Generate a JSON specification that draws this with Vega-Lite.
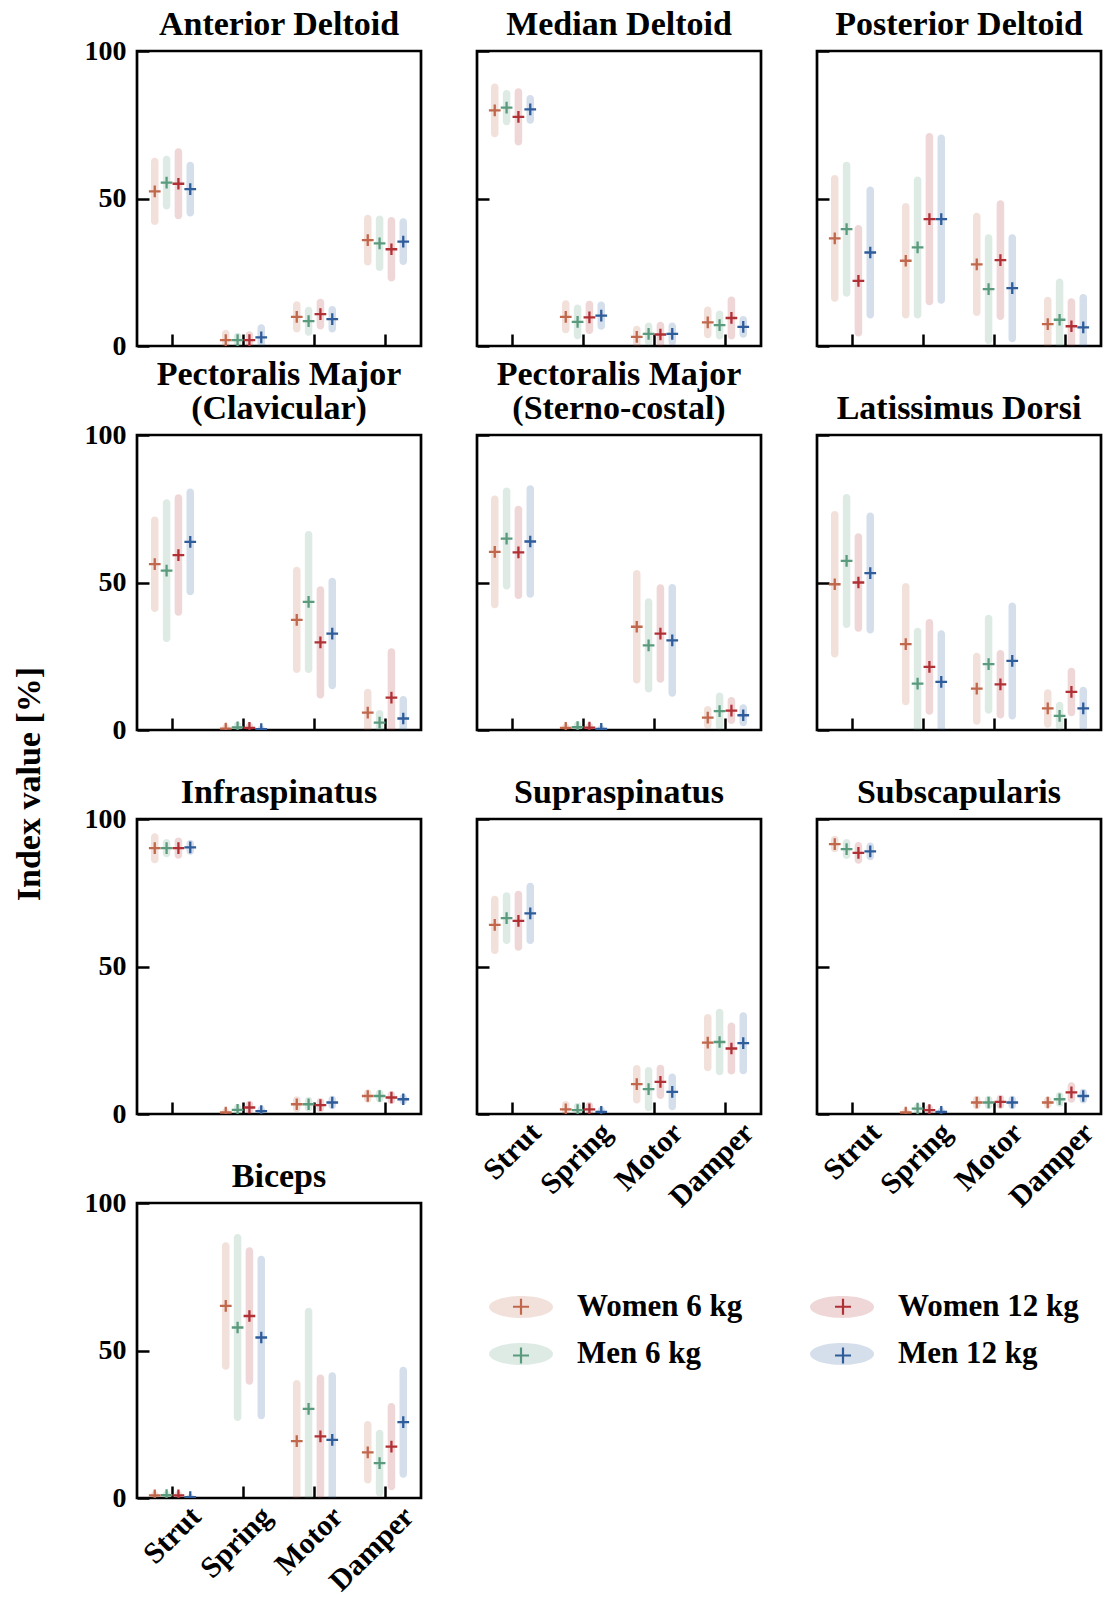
{
"$schema": "https://vega.github.io/schema/vega-lite/v6.json",
"background": "white",
"padding": {"left": 12, "top": 6, "right": 5, "bottom": 5},
"title": {"text": "Index value [%]", "orient": "left", "anchor": "middle", "offset": 36, "dx": 18, "fontSize": 34, "font": "Liberation Serif", "fontWeight": "bold", "color": "#000000"},
"columns": 3,
"spacing": {"row": 89, "column": 56},
"bounds": "flush",
"align": "all",
"datasets": {"d": [
{"m":"AD","d":"Strut","g":"Women 6 kg","v":52.4,"lo":41.0,"hi":63.8},
{"m":"AD","d":"Strut","g":"Men 6 kg","v":55.4,"lo":46.3,"hi":64.5},
{"m":"AD","d":"Strut","g":"Women 12 kg","v":55.0,"lo":43.0,"hi":67.0},
{"m":"AD","d":"Strut","g":"Men 12 kg","v":53.2,"lo":43.9,"hi":62.5},
{"m":"AD","d":"Spring","g":"Women 6 kg","v":2.0,"lo":-1.5,"hi":5.5},
{"m":"AD","d":"Spring","g":"Men 6 kg","v":2.0,"lo":-0.5,"hi":4.5},
{"m":"AD","d":"Spring","g":"Women 12 kg","v":2.0,"lo":-1.0,"hi":5.0},
{"m":"AD","d":"Spring","g":"Men 12 kg","v":2.9,"lo":-1.6,"hi":7.4},
{"m":"AD","d":"Motor","g":"Women 6 kg","v":9.9,"lo":4.6,"hi":15.2},
{"m":"AD","d":"Motor","g":"Men 6 kg","v":8.4,"lo":3.5,"hi":13.3},
{"m":"AD","d":"Motor","g":"Women 12 kg","v":10.8,"lo":5.6,"hi":16.0},
{"m":"AD","d":"Motor","g":"Men 12 kg","v":9.1,"lo":4.6,"hi":13.6},
{"m":"AD","d":"Damper","g":"Women 6 kg","v":35.9,"lo":27.3,"hi":44.5},
{"m":"AD","d":"Damper","g":"Men 6 kg","v":34.8,"lo":25.4,"hi":44.2},
{"m":"AD","d":"Damper","g":"Women 12 kg","v":32.8,"lo":21.9,"hi":43.7},
{"m":"AD","d":"Damper","g":"Men 12 kg","v":35.4,"lo":27.5,"hi":43.3},
{"m":"MD","d":"Strut","g":"Women 6 kg","v":79.9,"lo":70.8,"hi":89.0},
{"m":"MD","d":"Strut","g":"Men 6 kg","v":80.8,"lo":74.8,"hi":86.8},
{"m":"MD","d":"Strut","g":"Women 12 kg","v":77.7,"lo":68.0,"hi":87.4},
{"m":"MD","d":"Strut","g":"Men 12 kg","v":80.2,"lo":75.3,"hi":85.1},
{"m":"MD","d":"Spring","g":"Women 6 kg","v":9.9,"lo":4.3,"hi":15.5},
{"m":"MD","d":"Spring","g":"Men 6 kg","v":8.2,"lo":2.3,"hi":14.1},
{"m":"MD","d":"Spring","g":"Women 12 kg","v":9.7,"lo":4.1,"hi":15.3},
{"m":"MD","d":"Spring","g":"Men 12 kg","v":10.3,"lo":5.5,"hi":15.1},
{"m":"MD","d":"Motor","g":"Women 6 kg","v":3.1,"lo":-0.7,"hi":6.9},
{"m":"MD","d":"Motor","g":"Men 6 kg","v":4.1,"lo":0.2,"hi":8.0},
{"m":"MD","d":"Motor","g":"Women 12 kg","v":3.9,"lo":-0.4,"hi":8.2},
{"m":"MD","d":"Motor","g":"Men 12 kg","v":4.1,"lo":0.2,"hi":8.0},
{"m":"MD","d":"Damper","g":"Women 6 kg","v":8.0,"lo":2.6,"hi":13.4},
{"m":"MD","d":"Damper","g":"Men 6 kg","v":7.1,"lo":2.2,"hi":12.0},
{"m":"MD","d":"Damper","g":"Women 12 kg","v":9.5,"lo":2.2,"hi":16.8},
{"m":"MD","d":"Damper","g":"Men 12 kg","v":6.5,"lo":2.8,"hi":10.2},
{"m":"PD","d":"Strut","g":"Women 6 kg","v":36.5,"lo":15.0,"hi":58.0},
{"m":"PD","d":"Strut","g":"Men 6 kg","v":39.6,"lo":16.7,"hi":62.5},
{"m":"PD","d":"Strut","g":"Women 12 kg","v":22.1,"lo":3.2,"hi":41.0},
{"m":"PD","d":"Strut","g":"Men 12 kg","v":31.7,"lo":9.3,"hi":54.1},
{"m":"PD","d":"Spring","g":"Women 6 kg","v":28.9,"lo":9.3,"hi":48.5},
{"m":"PD","d":"Spring","g":"Men 6 kg","v":33.4,"lo":9.3,"hi":57.5},
{"m":"PD","d":"Spring","g":"Women 12 kg","v":43.0,"lo":13.8,"hi":72.2},
{"m":"PD","d":"Spring","g":"Men 12 kg","v":43.0,"lo":14.3,"hi":71.7},
{"m":"PD","d":"Motor","g":"Women 6 kg","v":27.7,"lo":10.2,"hi":45.2},
{"m":"PD","d":"Motor","g":"Men 6 kg","v":19.3,"lo":0.7,"hi":37.9},
{"m":"PD","d":"Motor","g":"Women 12 kg","v":29.1,"lo":8.8,"hi":49.4},
{"m":"PD","d":"Motor","g":"Men 12 kg","v":19.6,"lo":1.3,"hi":37.9},
{"m":"PD","d":"Damper","g":"Women 6 kg","v":7.4,"lo":-1.9,"hi":16.7},
{"m":"PD","d":"Damper","g":"Men 6 kg","v":8.9,"lo":-5.1,"hi":22.9},
{"m":"PD","d":"Damper","g":"Women 12 kg","v":6.7,"lo":-2.8,"hi":16.2},
{"m":"PD","d":"Damper","g":"Men 12 kg","v":6.3,"lo":-5.0,"hi":17.6},
{"m":"PC","d":"Strut","g":"Women 6 kg","v":56.2,"lo":40.0,"hi":72.4},
{"m":"PC","d":"Strut","g":"Men 6 kg","v":54.0,"lo":29.8,"hi":78.2},
{"m":"PC","d":"Strut","g":"Women 12 kg","v":59.3,"lo":38.7,"hi":79.9},
{"m":"PC","d":"Strut","g":"Men 12 kg","v":63.8,"lo":45.7,"hi":81.9},
{"m":"PC","d":"Spring","g":"Women 6 kg","v":0.5,"lo":-1.0,"hi":2.0},
{"m":"PC","d":"Spring","g":"Men 6 kg","v":0.9,"lo":-1.1,"hi":2.9},
{"m":"PC","d":"Spring","g":"Women 12 kg","v":0.7,"lo":-1.1,"hi":2.5},
{"m":"PC","d":"Spring","g":"Men 12 kg","v":0.3,"lo":-0.9,"hi":1.5},
{"m":"PC","d":"Motor","g":"Women 6 kg","v":37.3,"lo":19.3,"hi":55.3},
{"m":"PC","d":"Motor","g":"Men 6 kg","v":43.4,"lo":19.3,"hi":67.5},
{"m":"PC","d":"Motor","g":"Women 12 kg","v":29.7,"lo":10.7,"hi":48.7},
{"m":"PC","d":"Motor","g":"Men 12 kg","v":32.7,"lo":13.8,"hi":51.6},
{"m":"PC","d":"Damper","g":"Women 6 kg","v":5.9,"lo":-2.2,"hi":14.0},
{"m":"PC","d":"Damper","g":"Men 6 kg","v":2.5,"lo":-1.8,"hi":6.8},
{"m":"PC","d":"Damper","g":"Women 12 kg","v":11.0,"lo":-5.7,"hi":27.7},
{"m":"PC","d":"Damper","g":"Men 12 kg","v":3.9,"lo":-3.7,"hi":11.5},
{"m":"PS","d":"Strut","g":"Women 6 kg","v":60.4,"lo":41.3,"hi":79.5},
{"m":"PS","d":"Strut","g":"Men 6 kg","v":64.9,"lo":47.6,"hi":82.2},
{"m":"PS","d":"Strut","g":"Women 12 kg","v":60.2,"lo":44.4,"hi":76.0},
{"m":"PS","d":"Strut","g":"Men 12 kg","v":63.9,"lo":44.8,"hi":83.0},
{"m":"PS","d":"Spring","g":"Women 6 kg","v":0.7,"lo":-0.8,"hi":2.2},
{"m":"PS","d":"Spring","g":"Men 6 kg","v":1.0,"lo":-1.0,"hi":3.0},
{"m":"PS","d":"Spring","g":"Women 12 kg","v":0.8,"lo":-0.9,"hi":2.5},
{"m":"PS","d":"Spring","g":"Men 12 kg","v":0.4,"lo":-0.9,"hi":1.7},
{"m":"PS","d":"Motor","g":"Women 6 kg","v":35.0,"lo":15.8,"hi":54.2},
{"m":"PS","d":"Motor","g":"Men 6 kg","v":28.7,"lo":12.7,"hi":44.7},
{"m":"PS","d":"Motor","g":"Women 12 kg","v":32.7,"lo":16.0,"hi":49.4},
{"m":"PS","d":"Motor","g":"Men 12 kg","v":30.4,"lo":11.3,"hi":49.5},
{"m":"PS","d":"Damper","g":"Women 6 kg","v":4.2,"lo":0.3,"hi":8.1},
{"m":"PS","d":"Damper","g":"Men 6 kg","v":6.4,"lo":0.1,"hi":12.7},
{"m":"PS","d":"Damper","g":"Women 12 kg","v":6.6,"lo":2.0,"hi":11.2},
{"m":"PS","d":"Damper","g":"Men 12 kg","v":5.0,"lo":1.3,"hi":8.7},
{"m":"LD","d":"Strut","g":"Women 6 kg","v":49.4,"lo":24.6,"hi":74.2},
{"m":"LD","d":"Strut","g":"Men 6 kg","v":57.3,"lo":34.6,"hi":80.0},
{"m":"LD","d":"Strut","g":"Women 12 kg","v":50.0,"lo":33.3,"hi":66.7},
{"m":"LD","d":"Strut","g":"Men 12 kg","v":53.2,"lo":32.7,"hi":73.7},
{"m":"LD","d":"Spring","g":"Women 6 kg","v":29.1,"lo":8.4,"hi":49.8},
{"m":"LD","d":"Spring","g":"Men 6 kg","v":15.7,"lo":-3.3,"hi":34.7},
{"m":"LD","d":"Spring","g":"Women 12 kg","v":21.4,"lo":5.2,"hi":37.6},
{"m":"LD","d":"Spring","g":"Men 12 kg","v":16.3,"lo":-1.2,"hi":33.8},
{"m":"LD","d":"Motor","g":"Women 6 kg","v":14.0,"lo":1.8,"hi":26.2},
{"m":"LD","d":"Motor","g":"Men 6 kg","v":22.3,"lo":5.5,"hi":39.1},
{"m":"LD","d":"Motor","g":"Women 12 kg","v":15.5,"lo":3.9,"hi":27.1},
{"m":"LD","d":"Motor","g":"Men 12 kg","v":23.4,"lo":3.6,"hi":43.2},
{"m":"LD","d":"Damper","g":"Women 6 kg","v":7.3,"lo":0.8,"hi":13.8},
{"m":"LD","d":"Damper","g":"Men 6 kg","v":4.8,"lo":0.0,"hi":9.6},
{"m":"LD","d":"Damper","g":"Women 12 kg","v":12.9,"lo":4.7,"hi":21.1},
{"m":"LD","d":"Damper","g":"Men 12 kg","v":7.3,"lo":-0.1,"hi":14.7},
{"m":"IS","d":"Strut","g":"Women 6 kg","v":90.1,"lo":85.0,"hi":95.2},
{"m":"IS","d":"Strut","g":"Men 6 kg","v":90.1,"lo":87.0,"hi":93.2},
{"m":"IS","d":"Strut","g":"Women 12 kg","v":90.1,"lo":86.5,"hi":93.7},
{"m":"IS","d":"Strut","g":"Men 12 kg","v":90.4,"lo":87.9,"hi":92.9},
{"m":"IS","d":"Spring","g":"Women 6 kg","v":0.5,"lo":-1.0,"hi":2.0},
{"m":"IS","d":"Spring","g":"Men 6 kg","v":1.4,"lo":-0.6,"hi":3.4},
{"m":"IS","d":"Spring","g":"Women 12 kg","v":2.2,"lo":-0.1,"hi":4.5},
{"m":"IS","d":"Spring","g":"Men 12 kg","v":1.0,"lo":-0.8,"hi":2.8},
{"m":"IS","d":"Motor","g":"Women 6 kg","v":3.3,"lo":0.6,"hi":6.0},
{"m":"IS","d":"Motor","g":"Men 6 kg","v":3.3,"lo":0.8,"hi":5.8},
{"m":"IS","d":"Motor","g":"Women 12 kg","v":3.0,"lo":0.6,"hi":5.4},
{"m":"IS","d":"Motor","g":"Men 12 kg","v":3.9,"lo":1.6,"hi":6.2},
{"m":"IS","d":"Damper","g":"Women 6 kg","v":6.1,"lo":3.8,"hi":8.4},
{"m":"IS","d":"Damper","g":"Men 6 kg","v":6.1,"lo":3.9,"hi":8.3},
{"m":"IS","d":"Damper","g":"Women 12 kg","v":5.6,"lo":3.4,"hi":7.8},
{"m":"IS","d":"Damper","g":"Men 12 kg","v":5.0,"lo":3.2,"hi":6.8},
{"m":"SS","d":"Strut","g":"Women 6 kg","v":64.1,"lo":54.2,"hi":74.0},
{"m":"SS","d":"Strut","g":"Men 6 kg","v":66.4,"lo":57.6,"hi":75.2},
{"m":"SS","d":"Strut","g":"Women 12 kg","v":65.5,"lo":55.3,"hi":75.7},
{"m":"SS","d":"Strut","g":"Men 12 kg","v":68.0,"lo":57.6,"hi":78.4},
{"m":"SS","d":"Spring","g":"Women 6 kg","v":1.6,"lo":-1.2,"hi":4.4},
{"m":"SS","d":"Spring","g":"Men 6 kg","v":1.3,"lo":-1.2,"hi":3.8},
{"m":"SS","d":"Spring","g":"Women 12 kg","v":1.6,"lo":-0.9,"hi":4.1},
{"m":"SS","d":"Spring","g":"Men 12 kg","v":0.7,"lo":-1.1,"hi":2.5},
{"m":"SS","d":"Motor","g":"Women 6 kg","v":10.1,"lo":3.6,"hi":16.6},
{"m":"SS","d":"Motor","g":"Men 6 kg","v":8.4,"lo":0.9,"hi":15.9},
{"m":"SS","d":"Motor","g":"Women 12 kg","v":10.9,"lo":5.1,"hi":16.7},
{"m":"SS","d":"Motor","g":"Men 12 kg","v":7.5,"lo":1.3,"hi":13.7},
{"m":"SS","d":"Damper","g":"Women 6 kg","v":24.2,"lo":14.5,"hi":33.9},
{"m":"SS","d":"Damper","g":"Men 6 kg","v":24.4,"lo":13.1,"hi":35.7},
{"m":"SS","d":"Damper","g":"Women 12 kg","v":22.2,"lo":13.4,"hi":31.0},
{"m":"SS","d":"Damper","g":"Men 12 kg","v":24.0,"lo":13.5,"hi":34.5},
{"m":"SC","d":"Strut","g":"Women 6 kg","v":91.5,"lo":88.7,"hi":94.3},
{"m":"SC","d":"Strut","g":"Men 6 kg","v":89.8,"lo":86.4,"hi":93.2},
{"m":"SC","d":"Strut","g":"Women 12 kg","v":88.5,"lo":84.8,"hi":92.2},
{"m":"SC","d":"Strut","g":"Men 12 kg","v":89.0,"lo":86.0,"hi":92.0},
{"m":"SC","d":"Spring","g":"Women 6 kg","v":0.5,"lo":-1.0,"hi":2.0},
{"m":"SC","d":"Spring","g":"Men 6 kg","v":1.8,"lo":0.0,"hi":3.6},
{"m":"SC","d":"Spring","g":"Women 12 kg","v":1.3,"lo":-0.5,"hi":3.1},
{"m":"SC","d":"Spring","g":"Men 12 kg","v":0.7,"lo":-0.8,"hi":2.2},
{"m":"SC","d":"Motor","g":"Women 6 kg","v":3.9,"lo":1.6,"hi":6.2},
{"m":"SC","d":"Motor","g":"Men 6 kg","v":3.9,"lo":1.6,"hi":6.2},
{"m":"SC","d":"Motor","g":"Women 12 kg","v":4.1,"lo":1.7,"hi":6.5},
{"m":"SC","d":"Motor","g":"Men 12 kg","v":3.9,"lo":1.6,"hi":6.2},
{"m":"SC","d":"Damper","g":"Women 6 kg","v":3.9,"lo":1.9,"hi":5.9},
{"m":"SC","d":"Damper","g":"Men 6 kg","v":5.0,"lo":2.5,"hi":7.5},
{"m":"SC","d":"Damper","g":"Women 12 kg","v":7.3,"lo":3.8,"hi":10.8},
{"m":"SC","d":"Damper","g":"Men 12 kg","v":6.1,"lo":3.6,"hi":8.6},
{"m":"BI","d":"Strut","g":"Women 6 kg","v":0.9,"lo":-0.6,"hi":2.4},
{"m":"BI","d":"Strut","g":"Men 6 kg","v":1.0,"lo":-0.5,"hi":2.5},
{"m":"BI","d":"Strut","g":"Women 12 kg","v":0.9,"lo":-0.6,"hi":2.4},
{"m":"BI","d":"Strut","g":"Men 12 kg","v":0.3,"lo":-0.7,"hi":1.3},
{"m":"BI","d":"Spring","g":"Women 6 kg","v":65.1,"lo":43.5,"hi":86.7},
{"m":"BI","d":"Spring","g":"Men 6 kg","v":57.8,"lo":26.1,"hi":89.5},
{"m":"BI","d":"Spring","g":"Women 12 kg","v":61.7,"lo":38.4,"hi":85.0},
{"m":"BI","d":"Spring","g":"Men 12 kg","v":54.4,"lo":26.7,"hi":82.1},
{"m":"BI","d":"Motor","g":"Women 6 kg","v":19.3,"lo":-1.4,"hi":40.0},
{"m":"BI","d":"Motor","g":"Men 6 kg","v":30.2,"lo":-4.1,"hi":64.5},
{"m":"BI","d":"Motor","g":"Women 12 kg","v":20.9,"lo":-0.1,"hi":41.9},
{"m":"BI","d":"Motor","g":"Men 12 kg","v":19.7,"lo":-3.2,"hi":42.6},
{"m":"BI","d":"Damper","g":"Women 6 kg","v":15.5,"lo":4.9,"hi":26.1},
{"m":"BI","d":"Damper","g":"Men 6 kg","v":11.8,"lo":0.5,"hi":23.1},
{"m":"BI","d":"Damper","g":"Women 12 kg","v":17.4,"lo":2.6,"hi":32.2},
{"m":"BI","d":"Damper","g":"Men 12 kg","v":25.7,"lo":6.9,"hi":44.5}
]},
"concat": [
{"title": {"text": "Anterior Deltoid", "offset": -5}, "width": 284, "height": 295, "data": {"name": "d"}, "transform": [{"filter": {"field": "m", "equal": "AD"}}],
 "encoding": {"x": {"field": "d", "type": "nominal", "sort": ["Strut","Spring","Motor","Damper"], "scale": {"paddingInner": 0, "paddingOuter": 0}, "title": null, "axis": {"labels": false}},
  "xOffset": {"field": "g", "type": "nominal", "sort": ["Women 6 kg","Men 6 kg","Women 12 kg","Men 12 kg"], "scale": {"paddingInner": 0, "paddingOuter": 2.4375}}},
 "layer": [
  {"mark": {"type": "bar", "width": 7.5, "cornerRadius": 3.75, "fillOpacity": 0.2, "clip": true},
   "encoding": {"y": {"field": "lo", "type": "quantitative", "scale": {"domain": [0, 100], "nice": false}, "title": null, "axis": {"values": [0, 50, 100], "labelPadding": 23}}, "y2": {"field": "hi"},
    "fill": {"field": "g", "type": "nominal", "scale": {"domain": ["Women 6 kg","Men 6 kg","Women 12 kg","Men 12 kg"], "range": ["#C0674C","#5A9B7E","#B03035","#2F5C9A"]},
     "legend": {"orient": "none", "legendX": 352, "legendY": 1224, "title": null, "columns": 2, "symbolType": "M-1,0A1,0.34,0,1,0,1,0A1,0.34,0,1,0,-1,0Z", "symbolSize": 4096, "symbolOpacity": 0.2, "symbolStrokeWidth": 0, "labelLimit": 400, "labelOffset": 24, "columnPadding": 67, "rowPadding": -8, "padding": 0}}}},
  {"mark": {"type": "point", "shape": "M-1,0L1,0M0,-1L0,1", "size": 137, "filled": false, "strokeWidth": 2.3, "opacity": 1, "clip": true},
   "encoding": {"y": {"field": "v", "type": "quantitative", "title": null},
    "stroke": {"field": "g", "type": "nominal", "sort": ["Women 6 kg","Men 6 kg","Women 12 kg","Men 12 kg"], "scale": {"range": ["#C0674C","#5A9B7E","#B03035","#2F5C9A"]},
     "legend": {"orient": "none", "legendX": 350.5, "legendY": 1222, "title": null, "columns": 2, "symbolType": "M-0.25,0L0.25,0M0,-0.25L0,0.25", "symbolSize": 4096, "symbolStrokeWidth": 2.2, "labelExpr": "''", "labelOffset": 0, "columnPadding": 255, "rowPadding": 0, "padding": 0}}}}
 ]},
{"title": {"text": "Median Deltoid"}, "width": 284, "height": 295, "data": {"name": "d"}, "transform": [{"filter": {"field": "m", "equal": "MD"}}],
 "encoding": {"x": {"field": "d", "type": "nominal", "sort": ["Strut","Spring","Motor","Damper"], "scale": {"paddingInner": 0, "paddingOuter": 0}, "title": null, "axis": {"labels": false}},
  "xOffset": {"field": "g", "type": "nominal", "sort": ["Women 6 kg","Men 6 kg","Women 12 kg","Men 12 kg"], "scale": {"paddingInner": 0, "paddingOuter": 2.4375}}},
 "layer": [
  {"mark": {"type": "bar", "width": 7.5, "cornerRadius": 3.75, "fillOpacity": 0.2, "clip": true},
   "encoding": {"y": {"field": "lo", "type": "quantitative", "scale": {"domain": [0, 100], "nice": false}, "title": null, "axis": {"values": [0, 50, 100], "labels": false}}, "y2": {"field": "hi"},
    "fill": {"field": "g", "type": "nominal", "scale": {"domain": ["Women 6 kg","Men 6 kg","Women 12 kg","Men 12 kg"], "range": ["#C0674C","#5A9B7E","#B03035","#2F5C9A"]}}}},
  {"mark": {"type": "point", "shape": "M-1,0L1,0M0,-1L0,1", "size": 137, "filled": false, "strokeWidth": 2.3, "opacity": 1, "clip": true},
   "encoding": {"y": {"field": "v", "type": "quantitative", "title": null},
    "stroke": {"field": "g", "type": "nominal", "sort": ["Women 6 kg","Men 6 kg","Women 12 kg","Men 12 kg"], "scale": {"range": ["#C0674C","#5A9B7E","#B03035","#2F5C9A"]}}}}
 ]},
{"title": {"text": "Posterior Deltoid"}, "width": 284, "height": 295, "data": {"name": "d"}, "transform": [{"filter": {"field": "m", "equal": "PD"}}],
 "encoding": {"x": {"field": "d", "type": "nominal", "sort": ["Strut","Spring","Motor","Damper"], "scale": {"paddingInner": 0, "paddingOuter": 0}, "title": null, "axis": {"labels": false}},
  "xOffset": {"field": "g", "type": "nominal", "sort": ["Women 6 kg","Men 6 kg","Women 12 kg","Men 12 kg"], "scale": {"paddingInner": 0, "paddingOuter": 2.4375}}},
 "layer": [
  {"mark": {"type": "bar", "width": 7.5, "cornerRadius": 3.75, "fillOpacity": 0.2, "clip": true},
   "encoding": {"y": {"field": "lo", "type": "quantitative", "scale": {"domain": [0, 100], "nice": false}, "title": null, "axis": {"values": [0, 50, 100], "labels": false}}, "y2": {"field": "hi"},
    "fill": {"field": "g", "type": "nominal", "scale": {"domain": ["Women 6 kg","Men 6 kg","Women 12 kg","Men 12 kg"], "range": ["#C0674C","#5A9B7E","#B03035","#2F5C9A"]}}}},
  {"mark": {"type": "point", "shape": "M-1,0L1,0M0,-1L0,1", "size": 137, "filled": false, "strokeWidth": 2.3, "opacity": 1, "clip": true},
   "encoding": {"y": {"field": "v", "type": "quantitative", "title": null},
    "stroke": {"field": "g", "type": "nominal", "sort": ["Women 6 kg","Men 6 kg","Women 12 kg","Men 12 kg"], "scale": {"range": ["#C0674C","#5A9B7E","#B03035","#2F5C9A"]}}}}
 ]},
{"title": {"text": ["Pectoralis Major", "(Clavicular)"], "offset": -5}, "width": 284, "height": 295, "data": {"name": "d"}, "transform": [{"filter": {"field": "m", "equal": "PC"}}],
 "encoding": {"x": {"field": "d", "type": "nominal", "sort": ["Strut","Spring","Motor","Damper"], "scale": {"paddingInner": 0, "paddingOuter": 0}, "title": null, "axis": {"labels": false}},
  "xOffset": {"field": "g", "type": "nominal", "sort": ["Women 6 kg","Men 6 kg","Women 12 kg","Men 12 kg"], "scale": {"paddingInner": 0, "paddingOuter": 2.4375}}},
 "layer": [
  {"mark": {"type": "bar", "width": 7.5, "cornerRadius": 3.75, "fillOpacity": 0.2, "clip": true},
   "encoding": {"y": {"field": "lo", "type": "quantitative", "scale": {"domain": [0, 100], "nice": false}, "title": null, "axis": {"values": [0, 50, 100], "labelPadding": 23}}, "y2": {"field": "hi"},
    "fill": {"field": "g", "type": "nominal", "scale": {"domain": ["Women 6 kg","Men 6 kg","Women 12 kg","Men 12 kg"], "range": ["#C0674C","#5A9B7E","#B03035","#2F5C9A"]}}}},
  {"mark": {"type": "point", "shape": "M-1,0L1,0M0,-1L0,1", "size": 137, "filled": false, "strokeWidth": 2.3, "opacity": 1, "clip": true},
   "encoding": {"y": {"field": "v", "type": "quantitative", "title": null},
    "stroke": {"field": "g", "type": "nominal", "sort": ["Women 6 kg","Men 6 kg","Women 12 kg","Men 12 kg"], "scale": {"range": ["#C0674C","#5A9B7E","#B03035","#2F5C9A"]}}}}
 ]},
{"title": {"text": ["Pectoralis Major", "(Sterno-costal)"]}, "width": 284, "height": 295, "data": {"name": "d"}, "transform": [{"filter": {"field": "m", "equal": "PS"}}],
 "encoding": {"x": {"field": "d", "type": "nominal", "sort": ["Strut","Spring","Motor","Damper"], "scale": {"paddingInner": 0, "paddingOuter": 0}, "title": null, "axis": {"labels": false}},
  "xOffset": {"field": "g", "type": "nominal", "sort": ["Women 6 kg","Men 6 kg","Women 12 kg","Men 12 kg"], "scale": {"paddingInner": 0, "paddingOuter": 2.4375}}},
 "layer": [
  {"mark": {"type": "bar", "width": 7.5, "cornerRadius": 3.75, "fillOpacity": 0.2, "clip": true},
   "encoding": {"y": {"field": "lo", "type": "quantitative", "scale": {"domain": [0, 100], "nice": false}, "title": null, "axis": {"values": [0, 50, 100], "labels": false}}, "y2": {"field": "hi"},
    "fill": {"field": "g", "type": "nominal", "scale": {"domain": ["Women 6 kg","Men 6 kg","Women 12 kg","Men 12 kg"], "range": ["#C0674C","#5A9B7E","#B03035","#2F5C9A"]}}}},
  {"mark": {"type": "point", "shape": "M-1,0L1,0M0,-1L0,1", "size": 137, "filled": false, "strokeWidth": 2.3, "opacity": 1, "clip": true},
   "encoding": {"y": {"field": "v", "type": "quantitative", "title": null},
    "stroke": {"field": "g", "type": "nominal", "sort": ["Women 6 kg","Men 6 kg","Women 12 kg","Men 12 kg"], "scale": {"range": ["#C0674C","#5A9B7E","#B03035","#2F5C9A"]}}}}
 ]},
{"title": {"text": "Latissimus Dorsi"}, "width": 284, "height": 295, "data": {"name": "d"}, "transform": [{"filter": {"field": "m", "equal": "LD"}}],
 "encoding": {"x": {"field": "d", "type": "nominal", "sort": ["Strut","Spring","Motor","Damper"], "scale": {"paddingInner": 0, "paddingOuter": 0}, "title": null, "axis": {"labels": false}},
  "xOffset": {"field": "g", "type": "nominal", "sort": ["Women 6 kg","Men 6 kg","Women 12 kg","Men 12 kg"], "scale": {"paddingInner": 0, "paddingOuter": 2.4375}}},
 "layer": [
  {"mark": {"type": "bar", "width": 7.5, "cornerRadius": 3.75, "fillOpacity": 0.2, "clip": true},
   "encoding": {"y": {"field": "lo", "type": "quantitative", "scale": {"domain": [0, 100], "nice": false}, "title": null, "axis": {"values": [0, 50, 100], "labels": false}}, "y2": {"field": "hi"},
    "fill": {"field": "g", "type": "nominal", "scale": {"domain": ["Women 6 kg","Men 6 kg","Women 12 kg","Men 12 kg"], "range": ["#C0674C","#5A9B7E","#B03035","#2F5C9A"]}}}},
  {"mark": {"type": "point", "shape": "M-1,0L1,0M0,-1L0,1", "size": 137, "filled": false, "strokeWidth": 2.3, "opacity": 1, "clip": true},
   "encoding": {"y": {"field": "v", "type": "quantitative", "title": null},
    "stroke": {"field": "g", "type": "nominal", "sort": ["Women 6 kg","Men 6 kg","Women 12 kg","Men 12 kg"], "scale": {"range": ["#C0674C","#5A9B7E","#B03035","#2F5C9A"]}}}}
 ]},
{"title": {"text": "Infraspinatus", "offset": -5}, "width": 284, "height": 295, "data": {"name": "d"}, "transform": [{"filter": {"field": "m", "equal": "IS"}}],
 "encoding": {"x": {"field": "d", "type": "nominal", "sort": ["Strut","Spring","Motor","Damper"], "scale": {"paddingInner": 0, "paddingOuter": 0}, "title": null, "axis": {"labels": false}},
  "xOffset": {"field": "g", "type": "nominal", "sort": ["Women 6 kg","Men 6 kg","Women 12 kg","Men 12 kg"], "scale": {"paddingInner": 0, "paddingOuter": 2.4375}}},
 "layer": [
  {"mark": {"type": "bar", "width": 7.5, "cornerRadius": 3.75, "fillOpacity": 0.2, "clip": true},
   "encoding": {"y": {"field": "lo", "type": "quantitative", "scale": {"domain": [0, 100], "nice": false}, "title": null, "axis": {"values": [0, 50, 100], "labelPadding": 23}}, "y2": {"field": "hi"},
    "fill": {"field": "g", "type": "nominal", "scale": {"domain": ["Women 6 kg","Men 6 kg","Women 12 kg","Men 12 kg"], "range": ["#C0674C","#5A9B7E","#B03035","#2F5C9A"]}}}},
  {"mark": {"type": "point", "shape": "M-1,0L1,0M0,-1L0,1", "size": 137, "filled": false, "strokeWidth": 2.3, "opacity": 1, "clip": true},
   "encoding": {"y": {"field": "v", "type": "quantitative", "title": null},
    "stroke": {"field": "g", "type": "nominal", "sort": ["Women 6 kg","Men 6 kg","Women 12 kg","Men 12 kg"], "scale": {"range": ["#C0674C","#5A9B7E","#B03035","#2F5C9A"]}}}}
 ]},
{"title": {"text": "Supraspinatus"}, "width": 284, "height": 295, "data": {"name": "d"}, "transform": [{"filter": {"field": "m", "equal": "SS"}}],
 "encoding": {"x": {"field": "d", "type": "nominal", "sort": ["Strut","Spring","Motor","Damper"], "scale": {"paddingInner": 0, "paddingOuter": 0}, "title": null, "axis": {"labelAngle": -45, "labelAlign": "right", "labelBaseline": "top", "labelOffset": 13, "labelPadding": 15, "labelFontSize": 30}},
  "xOffset": {"field": "g", "type": "nominal", "sort": ["Women 6 kg","Men 6 kg","Women 12 kg","Men 12 kg"], "scale": {"paddingInner": 0, "paddingOuter": 2.4375}}},
 "layer": [
  {"mark": {"type": "bar", "width": 7.5, "cornerRadius": 3.75, "fillOpacity": 0.2, "clip": true},
   "encoding": {"y": {"field": "lo", "type": "quantitative", "scale": {"domain": [0, 100], "nice": false}, "title": null, "axis": {"values": [0, 50, 100], "labels": false}}, "y2": {"field": "hi"},
    "fill": {"field": "g", "type": "nominal", "scale": {"domain": ["Women 6 kg","Men 6 kg","Women 12 kg","Men 12 kg"], "range": ["#C0674C","#5A9B7E","#B03035","#2F5C9A"]}}}},
  {"mark": {"type": "point", "shape": "M-1,0L1,0M0,-1L0,1", "size": 137, "filled": false, "strokeWidth": 2.3, "opacity": 1, "clip": true},
   "encoding": {"y": {"field": "v", "type": "quantitative", "title": null},
    "stroke": {"field": "g", "type": "nominal", "sort": ["Women 6 kg","Men 6 kg","Women 12 kg","Men 12 kg"], "scale": {"range": ["#C0674C","#5A9B7E","#B03035","#2F5C9A"]}}}}
 ]},
{"title": {"text": "Subscapularis"}, "width": 284, "height": 295, "data": {"name": "d"}, "transform": [{"filter": {"field": "m", "equal": "SC"}}],
 "encoding": {"x": {"field": "d", "type": "nominal", "sort": ["Strut","Spring","Motor","Damper"], "scale": {"paddingInner": 0, "paddingOuter": 0}, "title": null, "axis": {"labelAngle": -45, "labelAlign": "right", "labelBaseline": "top", "labelOffset": 13, "labelPadding": 15, "labelFontSize": 30}},
  "xOffset": {"field": "g", "type": "nominal", "sort": ["Women 6 kg","Men 6 kg","Women 12 kg","Men 12 kg"], "scale": {"paddingInner": 0, "paddingOuter": 2.4375}}},
 "layer": [
  {"mark": {"type": "bar", "width": 7.5, "cornerRadius": 3.75, "fillOpacity": 0.2, "clip": true},
   "encoding": {"y": {"field": "lo", "type": "quantitative", "scale": {"domain": [0, 100], "nice": false}, "title": null, "axis": {"values": [0, 50, 100], "labels": false}}, "y2": {"field": "hi"},
    "fill": {"field": "g", "type": "nominal", "scale": {"domain": ["Women 6 kg","Men 6 kg","Women 12 kg","Men 12 kg"], "range": ["#C0674C","#5A9B7E","#B03035","#2F5C9A"]}}}},
  {"mark": {"type": "point", "shape": "M-1,0L1,0M0,-1L0,1", "size": 137, "filled": false, "strokeWidth": 2.3, "opacity": 1, "clip": true},
   "encoding": {"y": {"field": "v", "type": "quantitative", "title": null},
    "stroke": {"field": "g", "type": "nominal", "sort": ["Women 6 kg","Men 6 kg","Women 12 kg","Men 12 kg"], "scale": {"range": ["#C0674C","#5A9B7E","#B03035","#2F5C9A"]}}}}
 ]},
{"title": {"text": "Biceps", "offset": -5}, "width": 284, "height": 295, "data": {"name": "d"}, "transform": [{"filter": {"field": "m", "equal": "BI"}}],
 "encoding": {"x": {"field": "d", "type": "nominal", "sort": ["Strut","Spring","Motor","Damper"], "scale": {"paddingInner": 0, "paddingOuter": 0}, "title": null, "axis": {"labelAngle": -45, "labelAlign": "right", "labelBaseline": "top", "labelOffset": 13, "labelPadding": 15, "labelFontSize": 30}},
  "xOffset": {"field": "g", "type": "nominal", "sort": ["Women 6 kg","Men 6 kg","Women 12 kg","Men 12 kg"], "scale": {"paddingInner": 0, "paddingOuter": 2.4375}}},
 "layer": [
  {"mark": {"type": "bar", "width": 7.5, "cornerRadius": 3.75, "fillOpacity": 0.2, "clip": true},
   "encoding": {"y": {"field": "lo", "type": "quantitative", "scale": {"domain": [0, 100], "nice": false}, "title": null, "axis": {"values": [0, 50, 100], "labelPadding": 23}}, "y2": {"field": "hi"},
    "fill": {"field": "g", "type": "nominal", "scale": {"domain": ["Women 6 kg","Men 6 kg","Women 12 kg","Men 12 kg"], "range": ["#C0674C","#5A9B7E","#B03035","#2F5C9A"]}}}},
  {"mark": {"type": "point", "shape": "M-1,0L1,0M0,-1L0,1", "size": 137, "filled": false, "strokeWidth": 2.3, "opacity": 1, "clip": true},
   "encoding": {"y": {"field": "v", "type": "quantitative", "title": null},
    "stroke": {"field": "g", "type": "nominal", "sort": ["Women 6 kg","Men 6 kg","Women 12 kg","Men 12 kg"], "scale": {"range": ["#C0674C","#5A9B7E","#B03035","#2F5C9A"]}}}}
 ]}
],
"config": {
 "font": "Liberation Serif",
 "view": {"stroke": "#000000", "strokeWidth": 2.7, "fill": "white"},
 "axis": {"domain": false, "grid": false, "ticks": true, "tickColor": "#000000", "tickWidth": 2.5, "tickSize": -12, "labelFont": "Liberation Serif", "labelFontSize": 28, "labelFontWeight": "bold", "labelColor": "#000000"},
 "title": {"font": "Liberation Serif", "fontSize": 34, "fontWeight": "bold", "color": "#000000", "offset": 8, "lineHeight": 34},
 "legend": {"labelFont": "Liberation Serif", "labelFontSize": 31, "labelFontWeight": "bold", "labelColor": "#000000"}
}
}
